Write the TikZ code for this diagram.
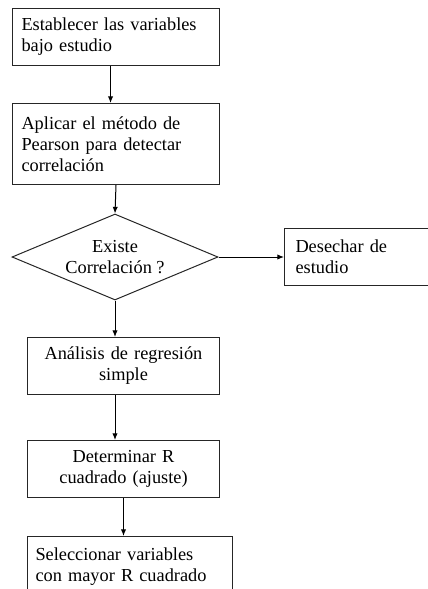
\documentclass[tikz,border=0pt]{standalone}
\usepackage{fontspec}
\setmainfont{Liberation Serif}
\usetikzlibrary{shapes.geometric,arrows.meta}

\tikzset{every picture/.style={line width=0.75pt}}
\tikzset{
  stepbox/.style={draw=black!85, rectangle, inner xsep=6.75pt, inner ysep=0pt, minimum height=42.75pt, font=\fontsize{13.75}{15.75}\selectfont, anchor=north west},
  decide/.style={draw=black!85, diamond, shape aspect=2.4, inner sep=0pt, minimum width=154.5pt, minimum height=64.5pt, align=center, font=\fontsize{13.75}{15.75}\selectfont},
  arr/.style={-{Latex[length=5pt,width=4pt]}}
}

\begin{document}
\begin{tikzpicture}[x=0.75pt,y=0.75pt,yscale=-1,xscale=1]
\useasboundingbox (0,0) rectangle (428,589);
\clip (0,0) rectangle (428,589);

%Shape: Rectangle [variables]
\node[stepbox, text width=141.75pt, align=left] (vars) at (12,8) {Establecer las variables\\bajo estudio};
%Shape: Rectangle [pearson]
\node[stepbox, text width=141.75pt, minimum height=60.75pt, align=left] (pearson) at (12,103) {Aplicar el método de\\Pearson para detectar\\correlación};
%Shape: Diamond [existe]
\node[decide] (corr) at (115,257) {Existe\\Correlación ?};
%Shape: Rectangle [desechar]
\node[stepbox, inner xsep=8.25pt, text width=130pt, align=left] (discard) at (284,228) {Desechar de\\estudio};
%Shape: Rectangle [regresion]
\node[stepbox, text width=130.5pt, align=center] (regr) at (27,337) {Análisis de regresión\\simple};
%Shape: Rectangle [R cuadrado]
\node[stepbox, text width=130.5pt, align=center] (rsq) at (27,440) {Determinar R\\cuadrado (ajuste)};
%Shape: Rectangle [seleccion]
\node[stepbox, inner xsep=6pt, text width=141.75pt, minimum height=45pt, align=left] (select) at (27,536) {Seleccionar variables\\con mayor R cuadrado};

%Straight Lines
\draw[arr] ([xshift=-4.1pt]vars.south) -- ([xshift=-4.1pt]pearson.north);
\draw[arr] (pearson.south) -- (corr.north);
\draw[arr] (corr.east) -- (discard.west);
\draw[arr] (corr.south) -- (corr.south |- regr.north);
\draw[arr] (regr.south -| corr.south) -- (rsq.north -| corr.south);
\draw[arr] (rsq.south) -- (rsq.south |- select.north);

\end{tikzpicture}
\end{document}
